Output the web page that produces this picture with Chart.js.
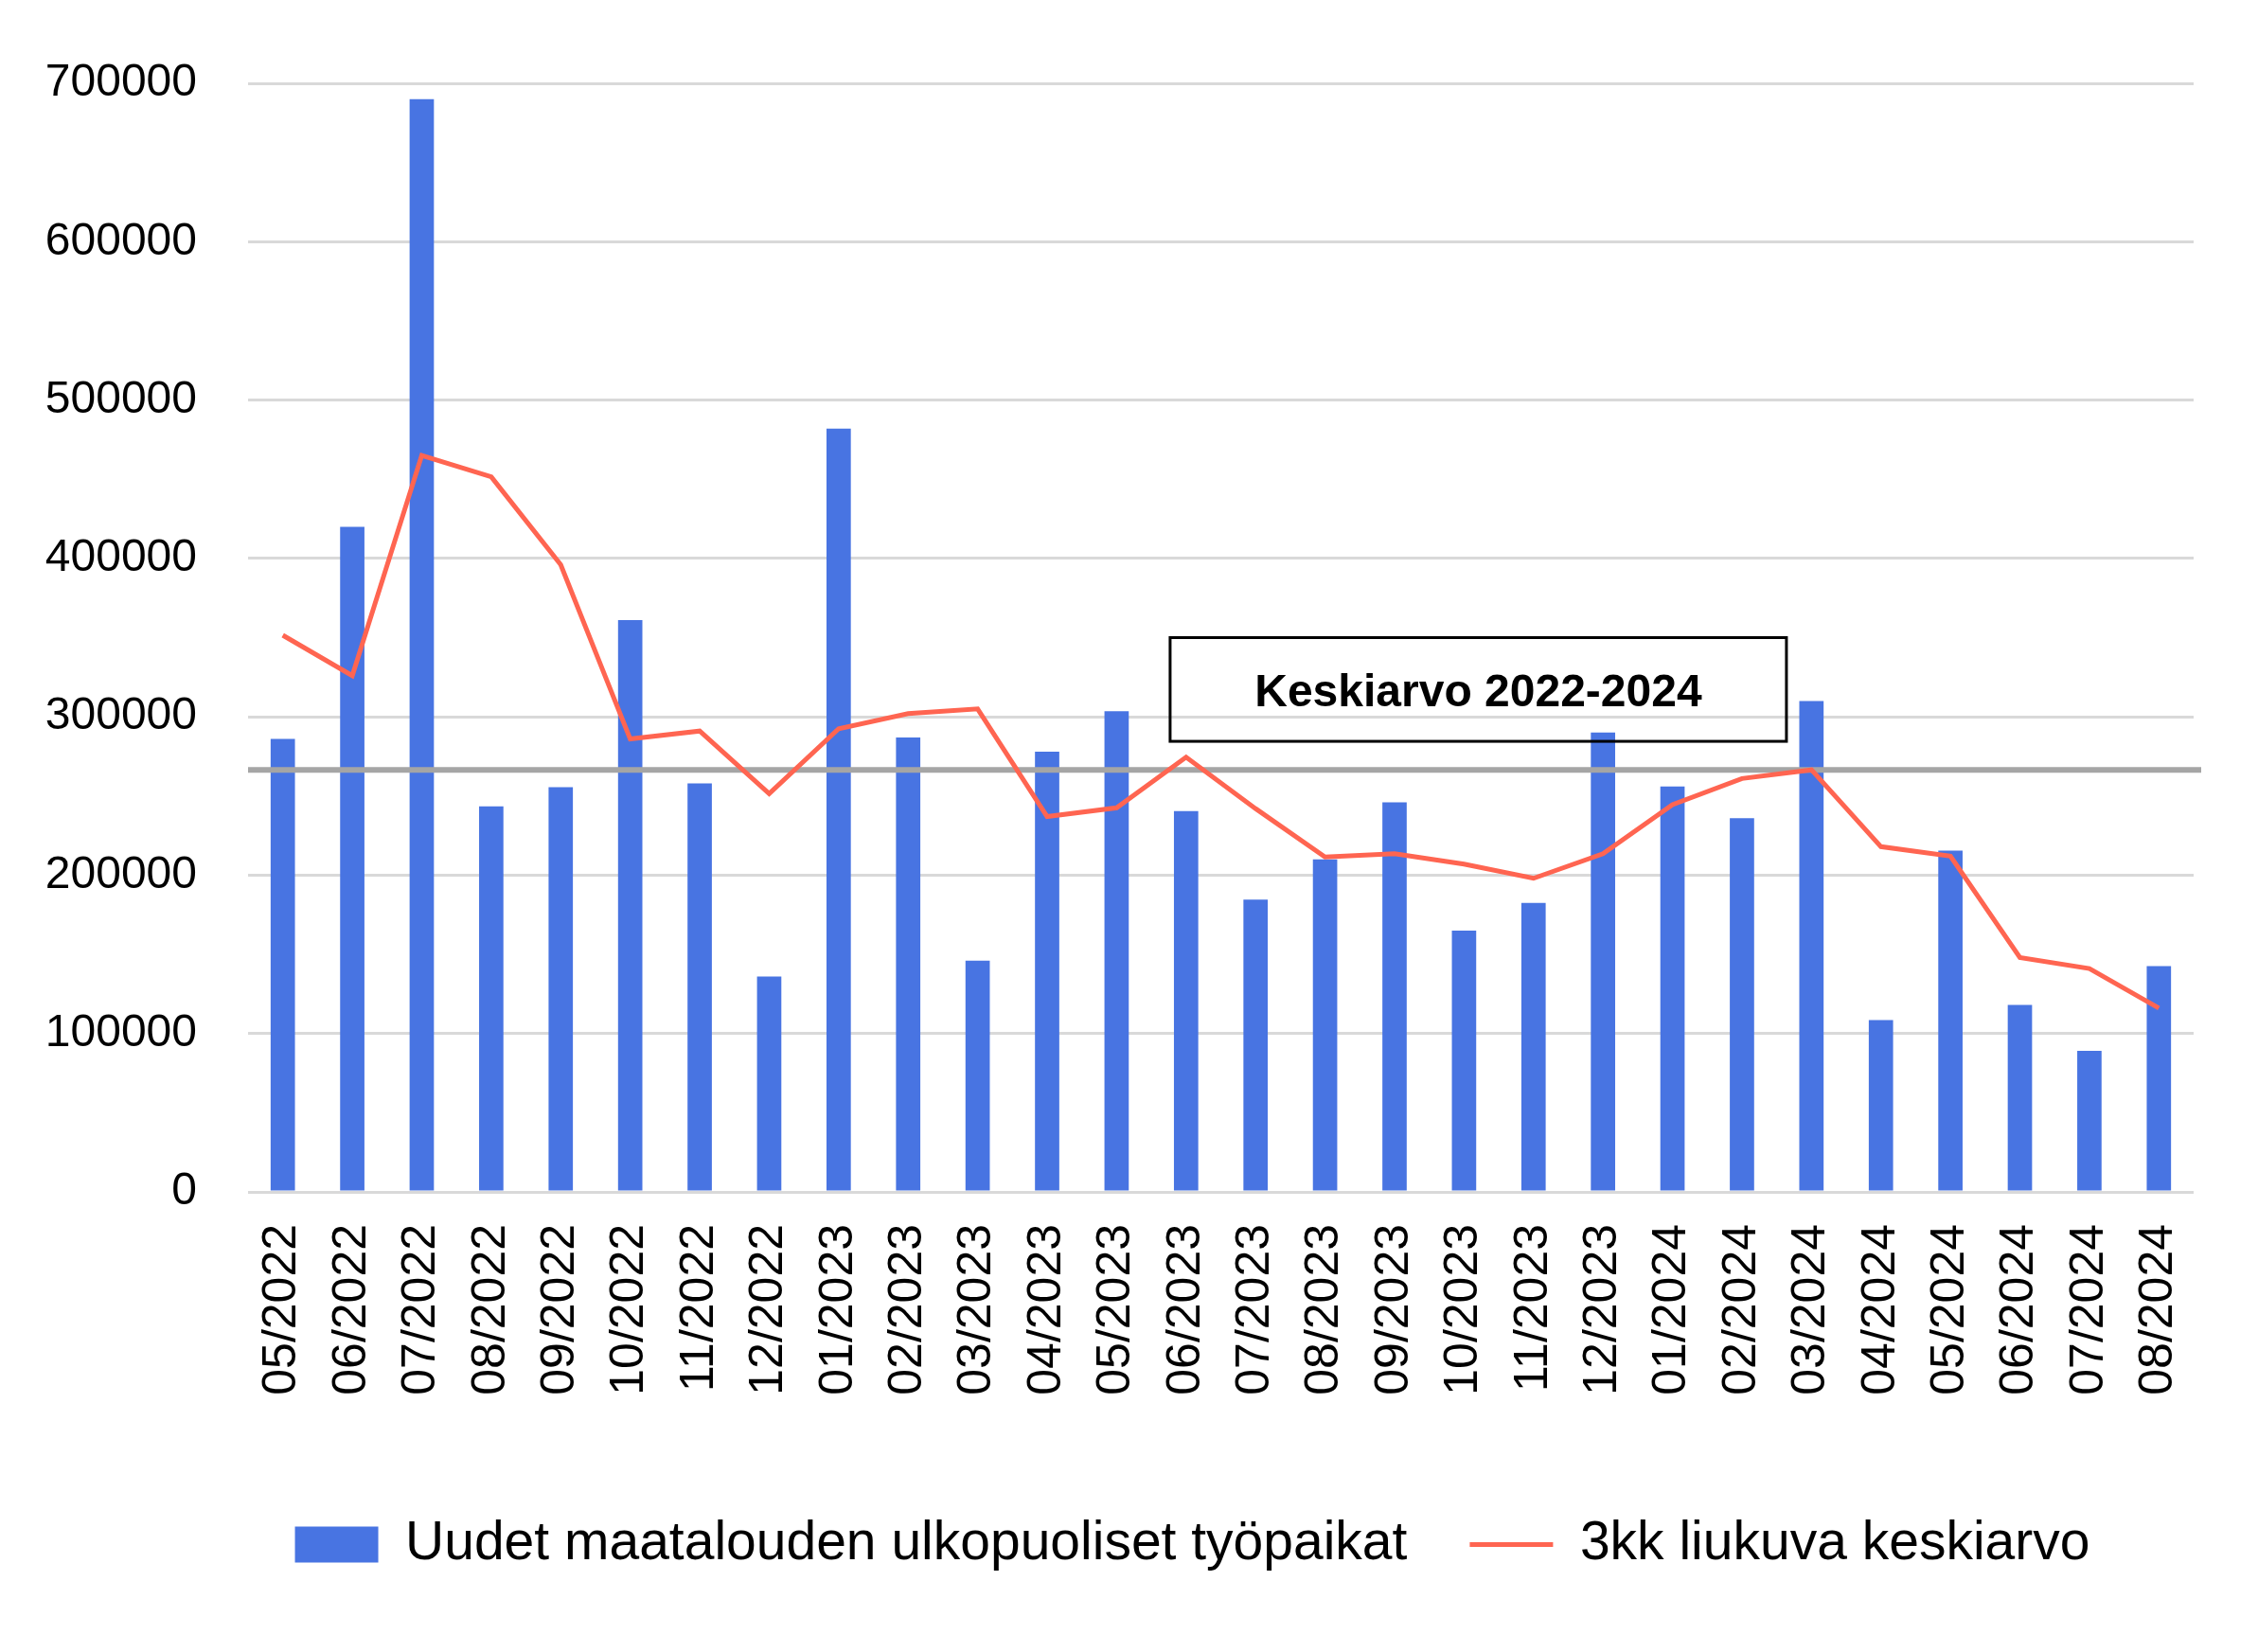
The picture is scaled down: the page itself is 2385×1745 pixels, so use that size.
<!DOCTYPE html>
<html>
<head>
<meta charset="utf-8">
<script src="https://cdn.jsdelivr.net/npm/chart.js@4.4.0/dist/chart.umd.min.js"></script>
<style>
  html, body { margin: 0; padding: 0; background: #fff; }
  #wrap { width: 2385px; height: 1745px; }
</style>
</head>
<body>
<div id="wrap"><canvas id="chart" width="2385" height="1745"></canvas></div>
<script>
const months = [
  '05/2022', '06/2022', '07/2022', '08/2022', '09/2022', '10/2022', '11/2022', '12/2022',
  '01/2023', '02/2023', '03/2023', '04/2023', '05/2023', '06/2023', '07/2023', '08/2023',
  '09/2023', '10/2023', '11/2023', '12/2023', '01/2024', '02/2024', '03/2024', '04/2024',
  '05/2024', '06/2024', '07/2024', '08/2024'
];

// uudet maatalouden ulkopuoliset työpaikat
const newJobs = [
  286000, 420000, 690000, 243500, 255500, 361000, 258000, 136000,
  482000, 287000, 146000, 278000, 303500, 240500, 184500, 210000,
  246000, 165000, 182500, 290000, 256000, 236000, 310000, 108500,
  215500, 118000, 89000, 142500
];

// 3kk liukuva keskiarvo
const movingAvg = [
  351500, 326000, 465000, 451500, 396000, 286000, 291000, 251500,
  292500, 302000, 305000, 237000, 242500, 274500, 242000, 211500,
  213500, 207000, 198000, 213500, 244500, 261000, 266500, 218000,
  212000, 148000, 141000, 116000
];

const periodAverage = 266500;
const averageLabel = 'Keskiarvo 2022-2024';
const yMax = 700000;
const yStep = 100000;

const averagePlugin = {
  id: 'averageLine',
  afterLayout(chart) {
    // legend sits a bit left of the plot centre in the original
    chart.legend.left -= 30;
    chart.legend.right -= 30;
  },
  afterDatasetDraw(chart, args) {
    if (args.meta.type !== 'bar') return;
    const { ctx, chartArea, scales: { y } } = chart;
    const py = y.getPixelForValue(periodAverage);
    ctx.save();
    ctx.strokeStyle = '#A5A5A5';
    ctx.lineWidth = 6;
    ctx.beginPath();
    ctx.moveTo(chartArea.left, py);
    ctx.lineTo(chartArea.right + 8, py);
    ctx.stroke();
    ctx.restore();
  },
  afterDatasetsDraw(chart) {
    const { ctx, scales: { x, y } } = chart;
    const left = x.getPixelForValue(12.77);
    const right = x.getPixelForValue(21.64);
    const top = y.getPixelForValue(350000);
    const bottom = y.getPixelForValue(284500);
    ctx.save();
    ctx.strokeStyle = '#000';
    ctx.lineWidth = 3;
    ctx.strokeRect(left, top, right - left, bottom - top);
    ctx.fillStyle = '#000';
    ctx.font = 'bold 48px "Liberation Sans", Arial, sans-serif';
    ctx.textAlign = 'center';
    ctx.textBaseline = 'middle';
    ctx.fillText(averageLabel, (left + right) / 2, (top + bottom) / 2 + 4);
    ctx.restore();
  }
};

Chart.defaults.font.family = '"Liberation Sans", Arial, sans-serif';
Chart.defaults.color = '#000';

const ctx = document.getElementById('chart').getContext('2d');
new Chart(ctx, {
  type: 'bar',
  data: {
    labels: months,
    datasets: [{
      type: 'bar',
      label: 'Uudet maatalouden ulkopuoliset työpaikat',
      data: newJobs,
      backgroundColor: '#4874E2',
      borderColor: '#4874E2',
      borderWidth: 0,
      categoryPercentage: 1,
      barPercentage: 0.35,
      pointStyle: 'rect',
      order: 1
    }, {
      type: 'line',
      label: '3kk liukuva keskiarvo',
      data: movingAvg,
      borderColor: '#FF6551',
      backgroundColor: '#FF6551',
      borderWidth: 5,
      pointRadius: 0,
      pointStyle: 'line',
      tension: 0,
      order: 0
    }]
  },
  options: {
    responsive: false,
    animation: false,
    devicePixelRatio: 1,
    layout: {
      padding: { left: 0, right: 68, top: 88, bottom: 75 }
    },
    plugins: {
      tooltip: { enabled: false },
      legend: {
        position: 'bottom',
        fullSize: false,
        labels: {
          usePointStyle: true,
          pointStyleWidth: 88,
          boxHeight: 38,
          padding: 66,
          font: { size: 57 },
          color: '#000',
          sort: (a, b) => a.datasetIndex - b.datasetIndex
        }
      }
    },
    scales: {
      x: {
        grid: { display: false, drawTicks: false },
        border: { display: false },
        ticks: {
          font: { size: 50 },
          color: '#000',
          minRotation: 90,
          maxRotation: 90,
          padding: 34,
          autoSkip: false
        },
        afterFit: s => { s.height = 278; }
      },
      y: {
        min: 0,
        max: yMax,
        grid: { color: '#D9D9D9', lineWidth: 3, drawTicks: false },
        border: { display: false },
        ticks: {
          stepSize: yStep,
          font: { size: 48 },
          color: '#000',
          padding: 54,
          callback: v => String(v)
        },
        afterFit: s => { s.width = 262; }
      }
    }
  },
  plugins: [averagePlugin]
});
</script>
</body>
</html>
